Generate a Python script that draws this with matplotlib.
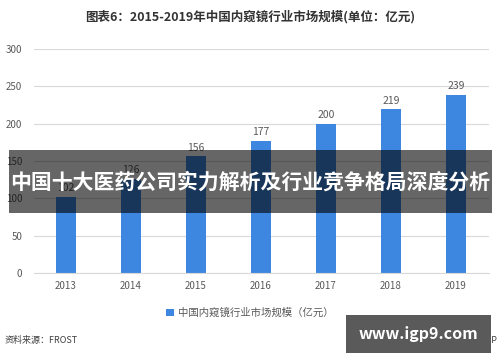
import matplotlib.pyplot as plt
from matplotlib.patches import Rectangle

plt.rcParams['font.family'] = ['Noto Sans CJK SC', 'DejaVu Sans']

# 数据
years = ['2013', '2014', '2015', '2016', '2017', '2018', '2019']
market_size = [102, 126, 156, 177, 200, 219, 239]
y_ticks = [0, 50, 100, 150, 200, 250, 300]

bar_color = '#3d87e0'
text_gray = '#595959'

fig = plt.figure(figsize=(5, 3.62), dpi=100)
ax = fig.add_axes([0.067, 0.246, 0.91, 0.6187])

x = range(len(years))
bars = ax.bar(x, market_size, width=0.31, color=bar_color, zorder=2,
              label='中国内窥镜行业市场规模（亿元）')
for xi, v in zip(x, market_size):
    ax.text(xi, v + 5, str(v), ha='center', va='bottom', fontsize=7.5, color=text_gray)

ax.set_xlim(-0.5, len(years) - 0.5)
ax.set_ylim(0, 300)
ax.set_yticks(y_ticks)
ax.set_xticks(list(x))
ax.set_xticklabels(years)
ax.tick_params(axis='both', length=0, labelsize=7, labelcolor=text_gray)
ax.tick_params(axis='y', pad=8)
ax.tick_params(axis='x', pad=6)
ax.grid(axis='y', color='#d9d9d9', linewidth=0.8, zorder=0)
for s in ['top', 'right', 'left']:
    ax.spines[s].set_visible(False)
ax.spines['bottom'].set_color('#d9d9d9')

fig.text(0.5, 0.953, '图表6：2015-2019年中国内窥镜行业市场规模(单位：亿元)',
         ha='center', va='center', fontsize=9, fontweight='bold', color='#333333')

leg = fig.legend(handles=[bars], loc='center', bbox_to_anchor=(0.5, 0.135),
                 frameon=False, fontsize=7.5, handlelength=0.7, handleheight=0.7,
                 handletextpad=0.4)
for t in leg.get_texts():
    t.set_color(text_gray)

fig.text(0.01, 0.06, '资料来源：FROST', ha='left', va='center', fontsize=6.5, color='#404040')
fig.text(0.995, 0.06, 'APP', ha='right', va='center', fontsize=6.5, color='#404040')

# 横幅（半透明遮罩）
fig.patches.append(Rectangle((0.018, 0.4116), 0.966, 0.174, transform=fig.transFigure,
                             facecolor='black', alpha=0.6, edgecolor='none', zorder=5))
fig.text(0.5, 0.497, '中国十大医药公司实力解析及行业竞争格局深度分析', ha='center', va='center',
         fontsize=15, fontweight='bold', color='white', zorder=6)

# 右下角网址
fig.patches.append(Rectangle((0.692, 0.025), 0.29, 0.105, transform=fig.transFigure,
                             facecolor='#5a5a5a', edgecolor='none', zorder=5))
fig.text(0.837, 0.078, 'www.igp9.com', ha='center', va='center', fontsize=11.5,
         fontweight='bold', color='white', zorder=6)

fig.savefig('out.png', dpi=100)
